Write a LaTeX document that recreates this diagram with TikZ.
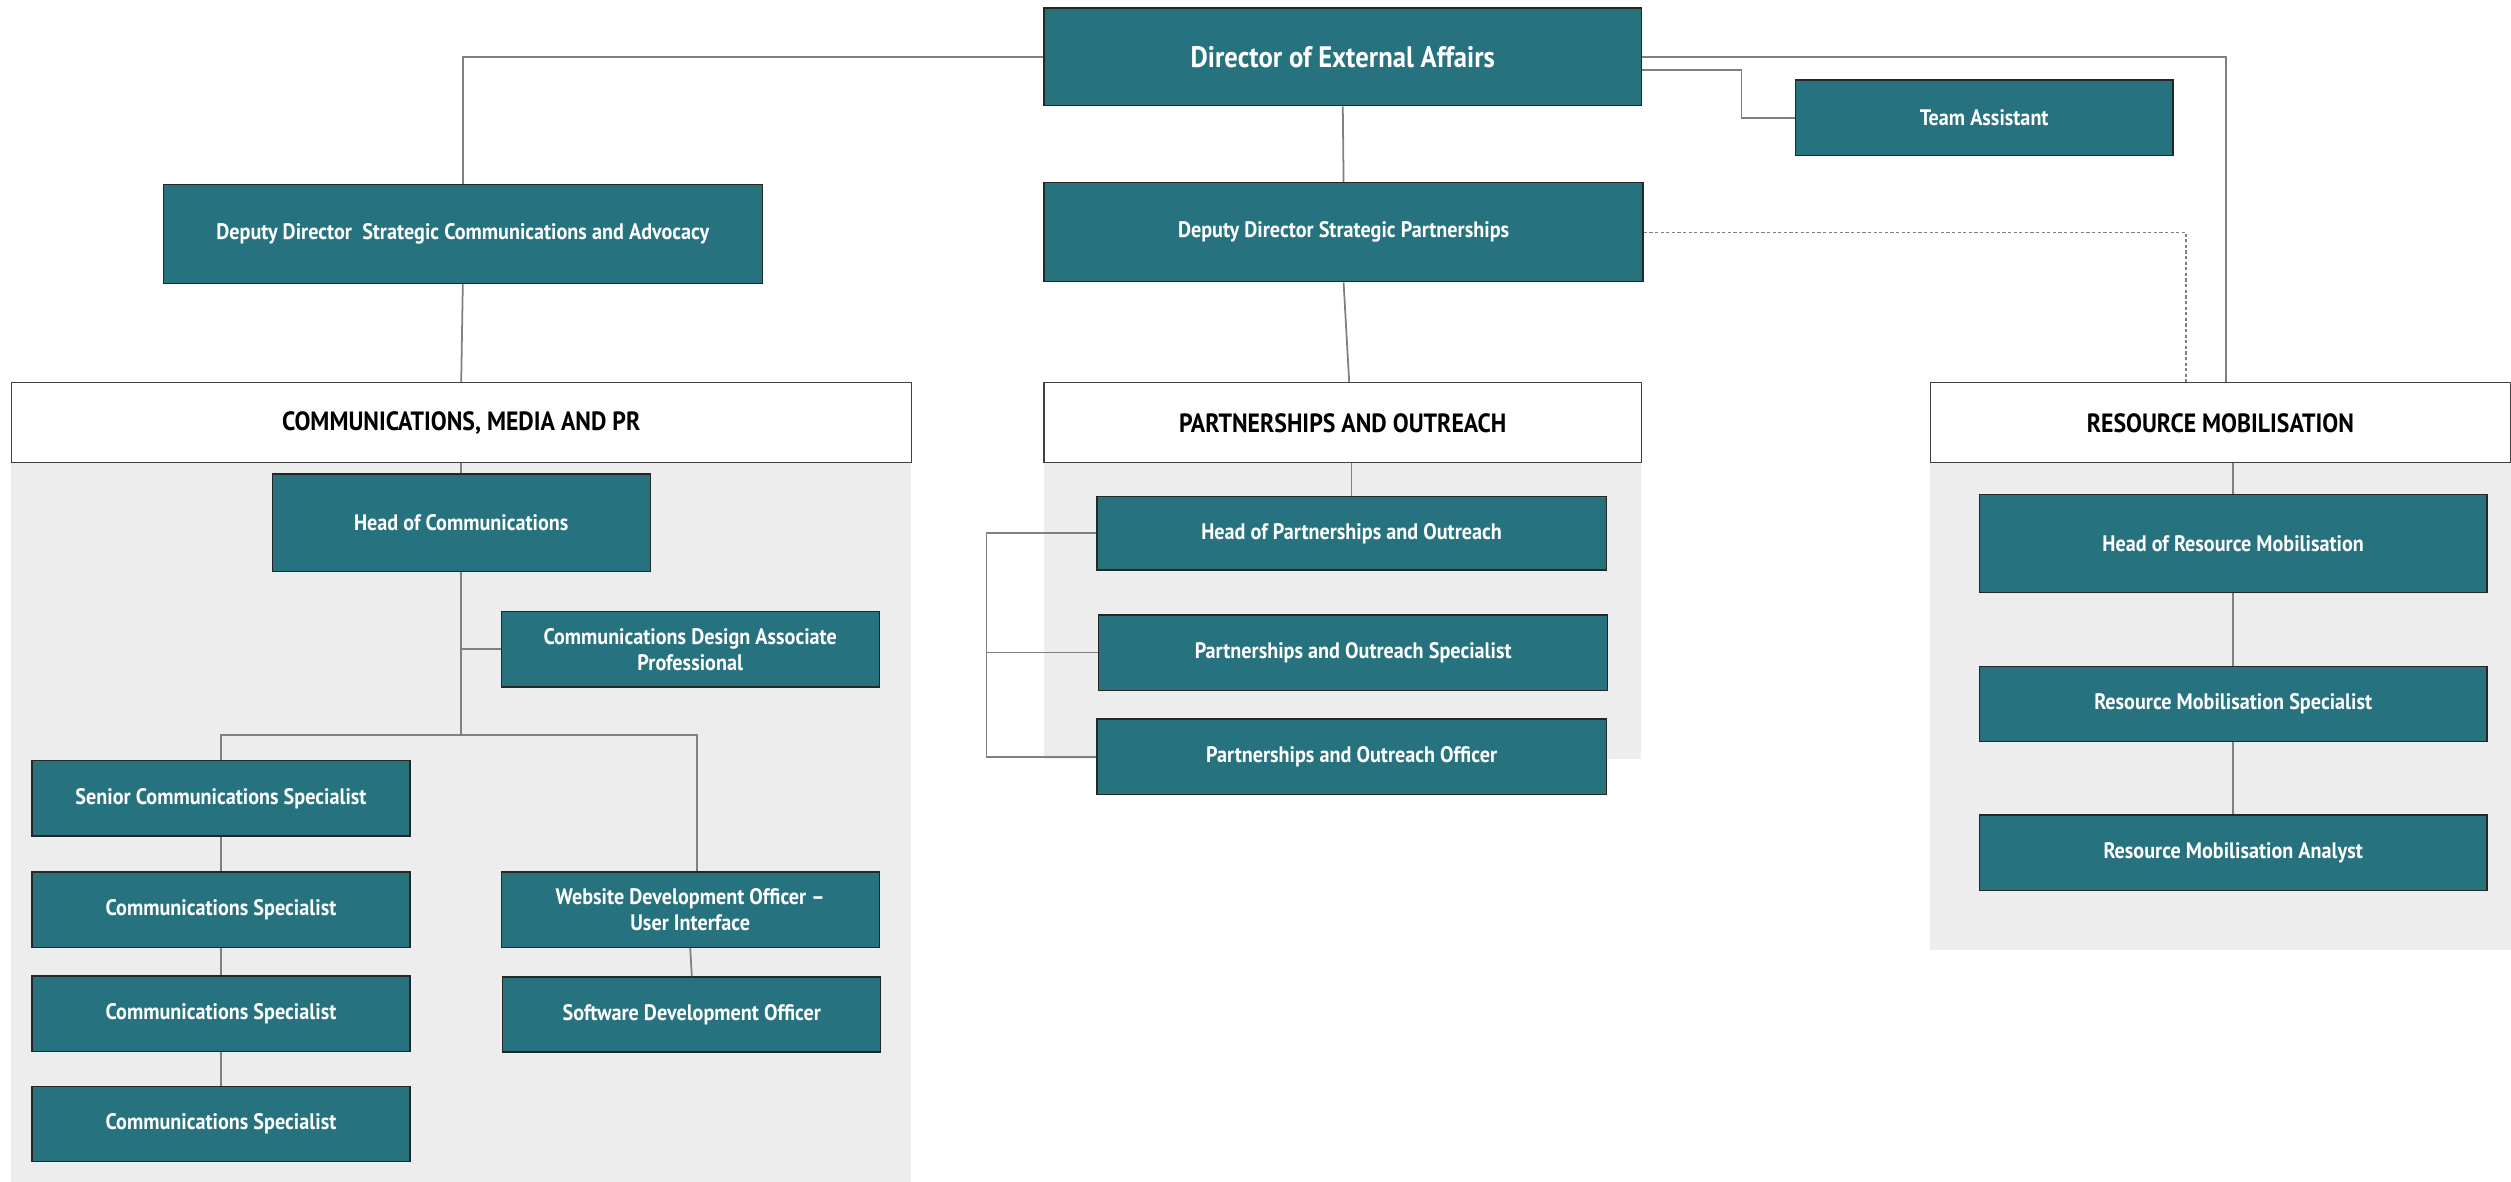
\documentclass[tikz,border=0pt]{standalone}
\usepackage{fontspec}
\setmainfont{PT Sans}[FakeStretch=0.9]
\definecolor{roleteal}{HTML}{26727F}
\definecolor{panelgray}{HTML}{EDEDED}
\definecolor{linkgray}{HTML}{808080}
\begin{document}
\begin{tikzpicture}[x=1pt,y=-1pt,
    role/.style={draw=black!85,line width=0.8pt,fill=roleteal,text=white,align=center,inner sep=0pt,
        font=\bfseries\fontsize{14}{16}\selectfont,minimum width=236pt,minimum height=47pt},
    unithead/.style={draw=black!75,line width=0.8pt,fill=white,text=black,inner sep=0pt,
        font=\bfseries\fontsize{16.5}{19}\selectfont,minimum height=50pt},
    link/.style={draw=linkgray,line width=1.1pt}]
    \useasboundingbox (0,0) rectangle (1568,738);
    % grey areas behind the three units
    \fill[panelgray] (7,289) rectangle (569,738);
    \fill[panelgray] (652,289) rectangle (1025,474);
    \fill[panelgray] (1205,289) rectangle (1568,593);
    % top of the office
    \node[role,minimum width=373pt,minimum height=61pt,font=\bfseries\fontsize{18.5}{21}\selectfont] (dir) at (838.5,35.5) {Director of External Affairs};
    \node[role] (ta) at (1239,73.5) {Team Assistant};
    \node[role,minimum width=374pt,minimum height=62pt] (ddsca) at (289,146) {Deputy Director\ \ Strategic Communications and Advocacy};
    \node[role,minimum width=374pt,minimum height=62pt] (ddsp) at (839,145) {Deputy Director Strategic Partnerships};
    % units
    \node[unithead,minimum width=562pt] (cmpr) at (288,264) {COMMUNICATIONS, MEDIA AND PR};
    \node[unithead,minimum width=373pt] (po) at (838.5,264) {PARTNERSHIPS AND OUTREACH};
    \node[unithead,minimum width=362pt] (rm) at (1386.5,264) {RESOURCE MOBILISATION};
    % communications
    \node[role,minimum height=61pt] (hoc) at (288,326.5) {Head of Communications};
    \node[role] (cdap) at (431,405.5) {Communications Design Associate\\Professional};
    \node[role] (scs) at (138,498.5) {Senior Communications Specialist};
    \node[role] (cs1) at (138,568) {Communications Specialist};
    \node[role] (cs2) at (138,633) {Communications Specialist};
    \node[role] (cs3) at (138,702) {Communications Specialist};
    \node[role] (wdo) at (431,568) {Website Development Officer --\\User Interface};
    \node[role] (sdo) at (432,633.5) {Software Development Officer};
    % partnerships
    \node[role,minimum width=318pt,minimum height=46pt] (hpo) at (844,333) {Head of Partnerships and Outreach};
    \node[role,minimum width=318pt] (pos) at (845,407.5) {Partnerships and Outreach Specialist};
    \node[role,minimum width=318pt] (poo) at (844,472.5) {Partnerships and Outreach Officer};
    % resource mobilisation
    \node[role,minimum width=317pt,minimum height=61pt] (hrm) at (1394.5,339.5) {Head of Resource Mobilisation};
    \node[role,minimum width=317pt] (rms) at (1394.5,439.5) {Resource Mobilisation Specialist};
    \node[role,minimum width=317pt] (rma) at (1394.5,532.5) {Resource Mobilisation Analyst};
    % reporting lines
    \coordinate (split) at (288,459);
    \coordinate (pobus) at (616,472.5);
    \draw[link] (dir.west) -| (ddsca.north);
    \draw[link] (dir.east) -| ([xshift=3.5pt]rm.north);
    \draw[link] ([yshift=-8pt]dir.east) -- ++(62,0) |- (ta.west);
    \draw[link] (dir.south) -- (ddsp.north);
    \draw[link,line width=0.8pt,dash pattern=on 2pt off 1.5pt] (ddsp.east) -| ([xshift=-21.5pt]rm.north);
    \draw[link] (ddsca.south) -- (cmpr.north);
    \draw[link] (ddsp.south) -- ([xshift=4pt]po.north);
    \draw[link] (cmpr.south) -- (hoc.north);
    \draw[link] (hoc.south) -- (split);
    \draw[link] (hoc.south) |- (cdap.west);
    \draw[link] (split) -| (scs.north);
    \draw[link] (split) -| ([xshift=4pt]wdo.north);
    \draw[link] (hpo.north |- po.south) -- (hpo.north);
    \draw[link] (hpo.west) -| (pobus) -- (poo.west);
    \draw[link] (pos.west) -- (pos.west -| pobus);
    \draw[link] (hrm.north |- rm.south) -- (hrm.north);
    \foreach \a/\b in {scs/cs1,cs1/cs2,cs2/cs3,wdo/sdo,hrm/rms,rms/rma}
        \draw[link] (\a.south) -- (\b.north);
\end{tikzpicture}
\end{document}
